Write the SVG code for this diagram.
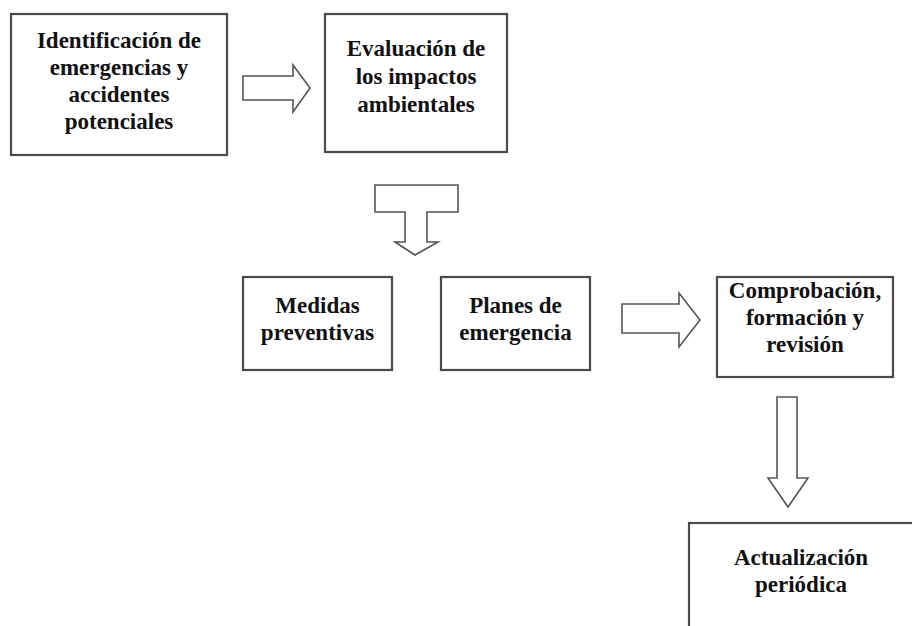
<svg xmlns="http://www.w3.org/2000/svg" width="912" height="626" viewBox="0 0 912 626">
<style>
.box{fill:#fff;stroke:#4a4a4a;stroke-width:2.2}
.arr{fill:#fff;stroke:#555;stroke-width:1.6;stroke-linejoin:miter}
text{font-family:"Liberation Serif","Times New Roman",serif;font-weight:bold;font-size:23px;fill:#111;text-anchor:middle}
</style>
<rect width="912" height="626" fill="#fff"/>
<g id="n1">
<rect class="box" x="11" y="14" width="216" height="141"/>
<text x="119" y="48">Identificación de</text>
<text x="119" y="75">emergencias y</text>
<text x="119" y="102">accidentes</text>
<text x="119" y="129">potenciales</text>
</g>
<g id="n2">
<rect class="box" x="325" y="14" width="182" height="138"/>
<text x="416" y="56">Evaluación de</text>
<text x="416" y="84">los impactos</text>
<text x="416" y="112">ambientales</text>
</g>
<g id="n3">
<rect class="box" x="243" y="277" width="149" height="93"/>
<text x="317.5" y="313">Medidas</text>
<text x="317.5" y="340">preventivas</text>
</g>
<g id="n4">
<rect class="box" x="441" y="277" width="149" height="93"/>
<text x="515.5" y="313">Planes de</text>
<text x="515.5" y="340">emergencia</text>
</g>
<g id="n5">
<rect class="box" x="717" y="277" width="176" height="100"/>
<text x="805" y="298">Comprobación,</text>
<text x="805" y="325">formación y</text>
<text x="805" y="352">revisión</text>
</g>
<g id="n6">
<rect class="box" x="689" y="523" width="240" height="120"/>
<text x="801" y="565">Actualización</text>
<text x="801" y="592">periódica</text>
</g>
<g id="connectors">
<path class="arr" d="M243,76 H293 V65 L310,88 L293,112 V100 H243 Z"/>
<path class="arr" d="M375,185 H458 V212 H427 V242 H438 L415,255 L395,242 H405 V212 H375 Z"/>
<path class="arr" d="M622,304 H679 V293 L700,320 L679,347 V333 H622 Z"/>
<path class="arr" d="M777,397 H797 V478 H808 L788,507 L768,478 H777 Z"/>
</g>
</svg>
